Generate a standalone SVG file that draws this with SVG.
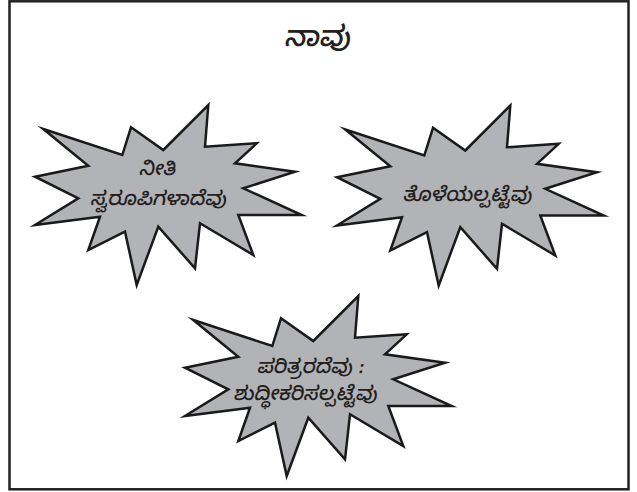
<svg xmlns="http://www.w3.org/2000/svg" xmlns:xlink="http://www.w3.org/1999/xlink" width="637" height="492" viewBox="0 0 637 492">
<style>
.frame{fill:#ffffff;stroke:#231f20;stroke-width:2.5}
.star{fill:#b1b3b6;stroke:#1a1a1a;stroke-width:2.5;stroke-linejoin:miter;stroke-miterlimit:20}
.lbl{font-family:"Noto Sans Kannada","Noto Sans","DejaVu Sans",sans-serif;font-weight:500;font-size:20px;fill:#231f20;text-anchor:middle}
.title{font-family:"Noto Sans Kannada","Noto Sans","DejaVu Sans",sans-serif;font-weight:500;font-size:29px;fill:#231f20;text-anchor:middle}
</style>
<defs>
<polygon id="burst" points="43.3,129 122.3,155 131,127.3 163.3,150 208.3,105 205,146.7 256.7,143.3 235,163.3 295,171.7 243.3,188.3 301.7,215 238.3,215 253.3,255 200,223.3 195,268.3 158.3,226.7 136.7,285 125,231.7 88.3,250 100,216.7 35,225 78.3,198.3 35,176.7 88.3,165.7"/>
</defs>
<rect class="frame" x="9.5" y="1.3" width="619" height="488"/>
<g id="title">
<text class="title" transform="translate(317,46) skewX(-12)">ನಾವು</text>
</g>
<g id="node1">
<use xlink:href="#burst" href="#burst" class="star"/>
<text class="lbl" transform="translate(157,175) skewX(-12)">ನೀತಿ</text>
<text class="lbl" transform="translate(158,205) skewX(-12)">ಸ್ವರೂಪಿಗಳಾದೆವು</text>
</g>
<g id="node2">
<use xlink:href="#burst" href="#burst" class="star" transform="translate(302,0.5)"/>
<text class="lbl" transform="translate(467,201) skewX(-12)">ತೊಳೆಯಲ್ಪಟ್ಟೆವು</text>
</g>
<g id="node3">
<use xlink:href="#burst" href="#burst" class="star" transform="translate(150,191)"/>
<text class="lbl" transform="translate(310,373) skewX(-12)">ಪರಿತ್ರರದೆವು :</text>
<text class="lbl" transform="translate(305,400) skewX(-12)">ಶುದ್ಧೀಕರಿಸಲ್ಪಟ್ಟೆವು</text>
</g>
<g id="connectors"/>
</svg>
